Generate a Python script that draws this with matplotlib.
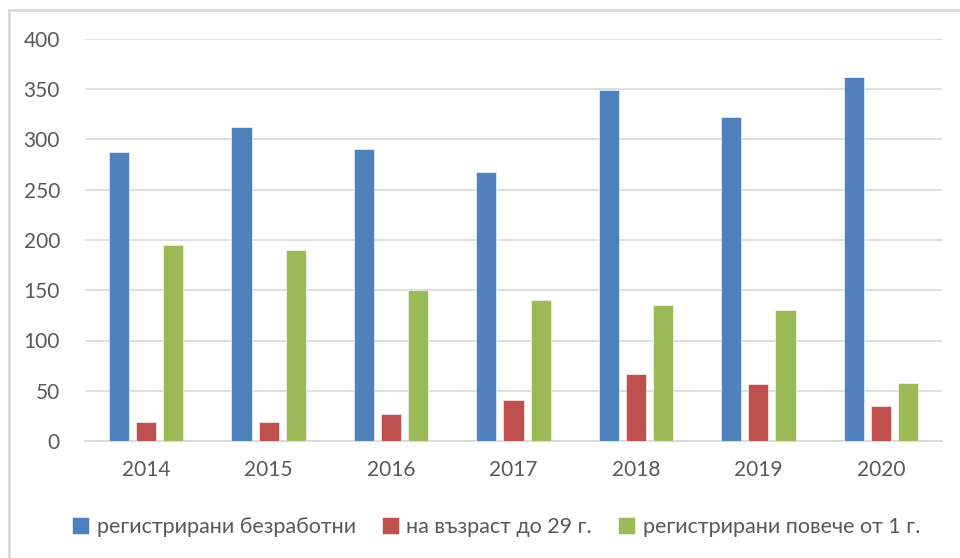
import numpy as np
import matplotlib
matplotlib.use('Agg')
import matplotlib.pyplot as plt
from matplotlib.lines import Line2D

plt.rcParams['font.family'] = ['Lato', 'DejaVu Sans']

#%% data

years = ['2014', '2015', '2016', '2017', '2018', '2019', '2020']
registered = [288, 312, 291, 268, 349, 322, 362]
under_29 = [19, 19, 27, 41, 67, 57, 35]
over_1y = [195, 190, 150, 140, 135, 130, 58]

labels = ['регистрирани безработни', 'на възраст до 29 г.', 'регистрирани повече от 1 г.']
colors = ['#4F81BD', '#C0504D', '#9BBB59']

#%% plot

fig = plt.figure(figsize=(9.6, 5.58), dpi=100)
ax = fig.add_axes([85/960, 1 - 441/558, (942 - 85)/960, (441 - 39)/558])

x = np.arange(len(years))
w = 0.165
step = 0.222
for i, (vals, c) in enumerate(zip([registered, under_29, over_1y], colors)):
    ax.bar(x + (i - 1)*step, vals, width=w, color=c, label=labels[i],
           edgecolor='white', linewidth=0.4, zorder=3)

ax.set_xlim(-0.5, len(years) - 0.5)
ax.set_ylim(0, 400)
ax.set_yticks(np.arange(0, 401, 50))
ax.set_xticks(x)
ax.set_xticklabels(years)

ax.grid(axis='y', color='#D9D9D9', linewidth=1.2, zorder=0)
for s in ['top', 'right', 'left']:
    ax.spines[s].set_visible(False)
ax.spines['bottom'].set_color('#D9D9D9')
ax.spines['bottom'].set_linewidth(1.2)
ax.tick_params(axis='both', length=0, labelsize=15, colors='#595959')
ax.tick_params(axis='x', pad=14)
ax.tick_params(axis='y', pad=18)

leg = fig.legend(loc='center', bbox_to_anchor=(496/960, 1 - 527/558), ncol=3,
                 frameon=False, fontsize=15.5, handlelength=0.8, handleheight=0.8,
                 handletextpad=0.35, columnspacing=1.2)
for t in leg.get_texts():
    t.set_color('#595959')

# outer chart frame (top and left edges visible)
fig.add_artist(Line2D([9/960, 1], [1 - 10/558, 1 - 10/558], color='#D9D9D9', linewidth=2))
fig.add_artist(Line2D([9/960, 9/960], [0, 1 - 10/558], color='#D9D9D9', linewidth=2))

fig.savefig('out.png', dpi=100)
